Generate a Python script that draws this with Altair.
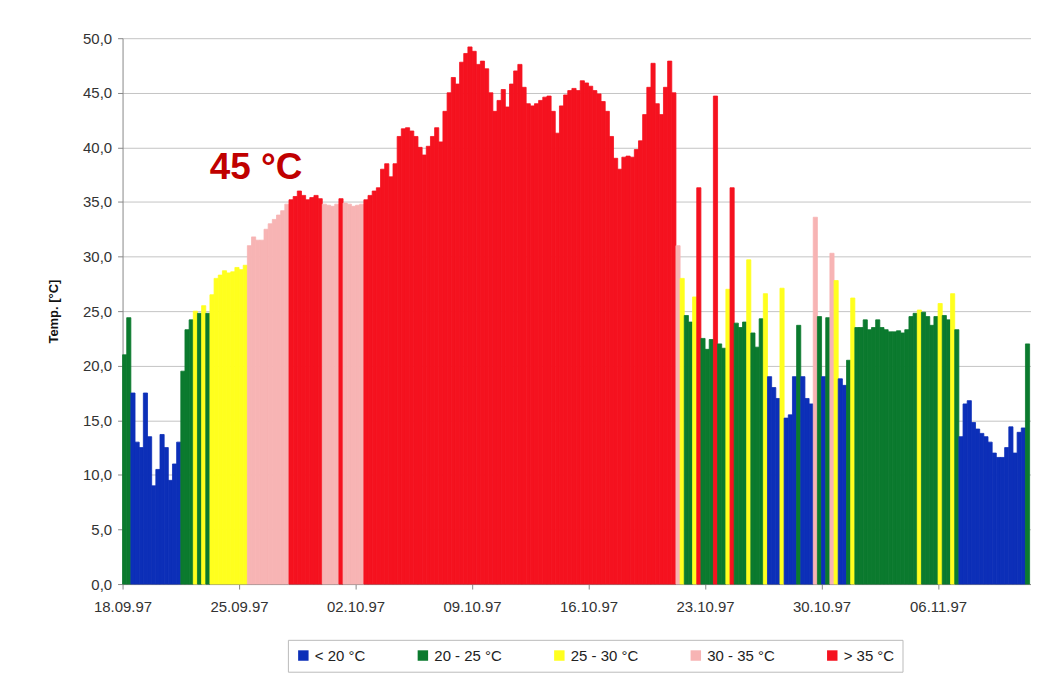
import altair as alt
import pandas as pd

START = "1997-09-18"
STEP_HOURS = 6

TEMPS = [
    21.0, 24.4, 17.5, 13.0, 12.5, 17.5, 13.5, 9.0, 10.5, 13.7,
    12.5, 9.5, 11.0, 13.0, 19.5, 23.3, 24.2, 25.0, 24.8, 25.5,
    24.8, 26.5, 28.0, 28.3, 28.7, 28.5, 28.6, 29.0, 28.8, 29.2,
    31.0, 31.8, 31.5, 31.5, 32.5, 33.0, 33.4, 33.8, 34.2, 34.8,
    35.2, 35.5, 36.0, 35.6, 35.2, 35.4, 35.6, 35.3, 34.8, 34.7,
    34.6, 34.8, 35.3, 34.9, 34.8, 34.6, 34.7, 34.8, 35.2, 35.6,
    36.0, 36.3, 38.0, 38.5, 37.3, 38.5, 41.0, 41.7, 41.8, 41.5,
    41.0, 40.0, 39.3, 40.1, 41.0, 41.8, 40.5, 43.3, 45.0, 46.4,
    45.8, 47.8, 48.6, 49.2, 48.8, 47.6, 47.9, 47.2, 45.0, 43.3,
    44.3, 45.3, 43.7, 45.8, 47.0, 47.6, 45.5, 44.0, 43.8, 44.0,
    44.3, 44.6, 44.7, 43.3, 41.3, 43.8, 44.8, 45.2, 45.4, 45.2,
    46.1, 45.9, 45.6, 45.2, 44.9, 44.2, 43.3, 41.0, 39.0, 38.0,
    39.1, 39.2, 39.1, 39.8, 40.6, 43.0, 45.5, 47.7, 44.0, 43.0,
    45.5, 47.9, 45.0, 31.0, 28.0, 24.6, 24.0, 26.3, 36.3, 22.5,
    21.5, 22.4, 44.7, 22.0, 21.6, 27.0, 36.3, 23.9, 23.5, 24.0,
    29.7, 23.0, 21.7, 24.3, 26.6, 19.0, 18.0, 17.0, 27.1, 15.2,
    15.5, 19.0, 23.7, 19.0, 17.0, 16.5, 33.6, 24.5, 19.0, 24.4,
    30.3, 27.8, 18.8, 18.2, 20.5, 26.2, 23.5, 23.5, 24.2, 23.3,
    23.5, 24.2, 23.5, 23.3, 23.1, 23.1, 23.2, 23.0, 23.3, 24.5,
    24.8, 25.1, 24.9, 24.5, 23.7, 24.5, 25.7, 24.6, 24.2, 26.6,
    23.3, 13.5, 16.5, 16.8, 14.8, 14.2, 13.8, 13.5, 13.0, 12.0,
    11.6, 11.6, 12.5, 14.4, 12.0, 13.9, 14.3, 22.0,
]

CATS = (
    "GGBBBBBBBB"
    "BBBBGGGYGY"
    "GYYYYYYYYY"
    "PPPPPPPPPP"
    "RRRRRRRRPP"
    "PPRPPPPPRR"
    "RRRRRRRRRR"
    "RRRRRRRRRR"
    "RRRRRRRRRR"
    "RRRRRRRRRR"
    "RRRRRRRRRR"
    "RRRRRRRRRR"
    "RRRRRRRRRR"
    "RRRPYGGYRG"
    "GGRGGYRGGG"
    "YGGGYBBBYB"
    "BBGBBBPGBG"
    "PYBBGYGGGG"
    "GGGGGGGGGG"
    "GYGGGGYGGY"
    "GBBBBBBBBB"
    "BBBBBBBG"
)

CAT_CODES = ["B", "G", "Y", "P", "R"]
CAT_LABELS = ["< 20 °C", "20 - 25 °C", "25 - 30 °C", "30 - 35 °C", "> 35 °C"]
CAT_COLORS = ["#0c2fb8", "#0b7a2e", "#ffff1e", "#f7b4b4", "#f5121f"]

X_TICKS = ["1997-09-18", "1997-09-25", "1997-10-02", "1997-10-09",
           "1997-10-16", "1997-10-23", "1997-10-30", "1997-11-06"]
Y_TICKS = [0, 5, 10, 15, 20, 25, 30, 35, 40, 45, 50]

ANNOT_TEXT = "45 °C"
ANNOT_TIME = "1997-09-26T00:30:00Z"
ANNOT_TEMP = 38.1

# ---- build table ----
t0 = pd.Timestamp(START)
label_of = dict(zip(CAT_CODES, CAT_LABELS))
rows = []
for i, (v, c) in enumerate(zip(TEMPS, CATS)):
    a = t0 + pd.Timedelta(hours=STEP_HOURS * i)
    b = t0 + pd.Timedelta(hours=STEP_HOURS * (i + 1))
    rows.append({
        "t": a.strftime("%Y-%m-%dT%H:%M:%SZ"),
        "t2": b.strftime("%Y-%m-%dT%H:%M:%SZ"),
        "temp": v,
        "cat": label_of[c],
    })
df = pd.DataFrame(rows)

x_values = [alt.DateTime(year=int(d[:4]), month=int(d[5:7]), date=int(d[8:10]), utc=True) for d in X_TICKS]

FONT = "Liberation Sans"

x_scale = alt.Scale(type="utc", domain=[
    alt.DateTime(year=1997, month=9, date=18, utc=True),
    alt.DateTime(year=1997, month=11, date=11, hours=14, utc=True)], nice=False)
y_scale = alt.Scale(domain=[0, 50], nice=False, zero=True)

x_axis = alt.Axis(values=x_values,
                  labelExpr="utcFormat(datum.value, '%d.%m.%y')",
                  labelFont=FONT, labelFontSize=15, labelColor="#333333",
                  labelPadding=11, tickSize=5, tickColor="#888888",
                  domainColor="#888888", grid=False, labelFlush=False)
y_axis = alt.Axis(values=Y_TICKS,
                  labelExpr="replace(format(datum.value, '.1f'), '.', ',')",
                  labelFont=FONT, labelFontSize=15, labelColor="#333333",
                  labelPadding=6,
                  titleFont=FONT, titleFontSize=13, titleFontWeight="bold",
                  titleColor="#111111", titlePadding=22,
                  tickSize=5, tickColor="#888888", domainColor="#888888",
                  grid=True, gridColor="#c4c4c4", gridWidth=1)

color_scale = alt.Scale(domain=CAT_LABELS, range=CAT_COLORS)

bars = alt.Chart(df).mark_bar(strokeWidth=0.8, opacity=1).encode(
    x=alt.X("t:T", scale=x_scale, title=None, axis=x_axis),
    x2="t2:T",
    y=alt.Y("temp:Q", scale=y_scale, title="Temp. [°C]", axis=y_axis),
    y2=alt.datum(0),
    color=alt.Color("cat:N", scale=color_scale, title=None,
                    legend=alt.Legend(orient="none", legendX=166, legendY=604,
                                      direction="horizontal", symbolType="square",
                                      symbolSize=110, labelFont=FONT, labelFontSize=15,
                                      labelColor="#222222", columnPadding=50,
                                      padding=8, strokeColor="#bbbbbb",
                                      symbolStrokeWidth=0, labelOffset=4)),
    stroke=alt.Stroke("cat:N", scale=color_scale, legend=None),
)

annot_df = pd.DataFrame({"t": [ANNOT_TIME], "temp": [ANNOT_TEMP], "label": [ANNOT_TEXT]})
annot = alt.Chart(annot_df).mark_text(
    font=FONT, fontSize=37, fontWeight="bold", color="#c00000",
    align="center", baseline="middle"
).encode(
    x=alt.X("t:T", scale=x_scale, title=None, axis=x_axis),
    y=alt.Y("temp:Q", scale=y_scale, title="Temp. [°C]", axis=y_axis),
    text="label:N",
)

chart = alt.layer(bars, annot).properties(
    width=912, height=548,
    autosize=alt.AutoSizeParams(type="none"),
    padding={"left": 115, "top": 29, "right": 0, "bottom": 96},
    background="white",
).configure_view(stroke=None)

chart.save("out.html", embed_options={"renderer": "svg", "actions": False})
